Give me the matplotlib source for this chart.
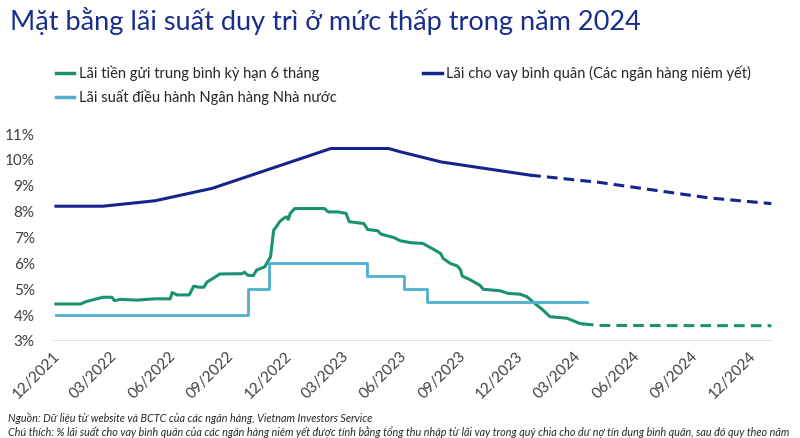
import matplotlib
matplotlib.use("Agg")
import matplotlib.pyplot as plt
import matplotlib.dates as mdates
import pandas as pd

plt.rcParams['font.family'] = ['Lato', 'Roboto', 'DejaVu Sans']

# Lãi tiền gửi trung bình kỳ hạn 6 tháng (thực tế)
dep_dates = ["2021-12-06", "2022-01-14", "2022-01-22", "2022-02-18", "2022-03-04", "2022-03-08",
             "2022-03-18", "2022-04-13", "2022-05-11", "2022-06-04", "2022-06-07", "2022-06-15",
             "2022-07-04", "2022-07-11", "2022-07-19", "2022-07-27", "2022-08-01", "2022-08-13",
             "2022-08-21", "2022-09-25", "2022-09-29", "2022-10-04", "2022-10-13", "2022-10-18",
             "2022-10-31", "2022-11-06", "2022-11-09", "2022-11-14", "2022-11-18", "2022-11-23",
             "2022-11-29", "2022-12-04", "2022-12-07", "2022-12-10", "2022-12-17", "2023-02-02",
             "2023-02-08", "2023-02-23", "2023-03-08", "2023-03-13", "2023-04-05", "2023-04-11",
             "2023-04-27", "2023-05-02", "2023-05-22", "2023-06-02", "2023-06-18", "2023-07-07",
             "2023-07-24", "2023-08-04", "2023-08-08", "2023-08-19", "2023-08-30", "2023-09-04",
             "2023-09-07", "2023-09-20", "2023-10-05", "2023-10-10", "2023-11-06", "2023-11-18",
             "2023-12-07", "2023-12-18", "2023-12-27", "2024-01-12", "2024-01-23", "2024-02-19",
             "2024-03-10", "2024-03-15"]
dep_values = [4.43, 4.43, 4.52, 4.69, 4.69, 4.56,
              4.61, 4.58, 4.63, 4.63, 4.87, 4.78,
              4.78, 5.12, 5.08, 5.08, 5.28, 5.46,
              5.59, 5.60, 5.66, 5.54, 5.53, 5.74,
              5.87, 6.13, 6.25, 7.29, 7.41, 7.60,
              7.73, 7.80, 7.70, 7.93, 8.12, 8.12,
              7.99, 7.99, 7.93, 7.61, 7.54, 7.31,
              7.26, 7.13, 7.00, 6.87, 6.80, 6.77,
              6.54, 6.38, 6.19, 6.00, 5.90, 5.77,
              5.51, 5.36, 5.15, 5.00, 4.94, 4.84,
              4.81, 4.71, 4.52, 4.20, 3.94, 3.88,
              3.68, 3.66]
# dự báo
dep_fc_dates = ["2024-03-15", "2024-04-10", "2025-01-06"]
dep_fc_values = [3.66, 3.60, 3.59]

# Lãi cho vay bình quân
loan_dates = ["2021-12-06", "2022-02-18", "2022-05-11", "2022-08-09", "2023-02-12",
              "2023-05-14", "2023-06-02", "2023-08-05", "2023-12-23"]
loan_values = [8.21, 8.21, 8.42, 8.90, 10.44, 10.44, 10.31, 9.92, 9.41]
loan_fc_dates = ["2023-12-23", "2024-04-10", "2024-09-30", "2025-01-06"]
loan_fc_values = [9.41, 9.13, 8.53, 8.31]

# Lãi suất điều hành
policy_dates = ["2021-12-06", "2022-10-05", "2022-11-07", "2023-04-10", "2023-06-07",
                "2023-07-13", "2024-03-22"]
policy_values = [4.0, 5.0, 6.0, 5.5, 5.0, 4.5, 4.5]

tick_dates = pd.date_range("2021-12-01", "2024-12-01", freq="3MS")
tick_labels = [d.strftime("%m/%Y") for d in tick_dates]
y_ticks = [3, 4, 5, 6, 7, 8, 9, 10, 11]

green = "#1A9272"
navy = "#15248C"
light = "#4DB0CF"

fig = plt.figure(figsize=(8, 4.38), dpi=100)
ax = fig.add_axes([0.066, 0.2215, 0.899, 0.4725])

ax.plot(pd.to_datetime(dep_dates), dep_values, color=green, lw=2.2, solid_joinstyle='round')
ax.plot(pd.to_datetime(dep_fc_dates), dep_fc_values, color=green, lw=2.2, ls=(0, (3.5, 2)))
ax.plot(pd.to_datetime(loan_dates), loan_values, color=navy, lw=2.2)
ax.plot(pd.to_datetime(loan_fc_dates), loan_fc_values, color=navy, lw=2.2, ls=(0, (3.5, 2)))
ax.step(pd.to_datetime(policy_dates), policy_values, where='post', color=light, lw=2.0)

ax.set_xlim(pd.Timestamp("2021-12-04"), pd.Timestamp("2025-01-07"))
ax.set_ylim(3, 11)
ax.set_yticks(y_ticks)
ax.set_yticklabels([f"{v}%" for v in y_ticks])
ax.set_xticks(tick_dates)
ax.set_xticklabels(tick_labels, rotation=45, ha='right', rotation_mode='anchor')
ax.tick_params(axis='both', length=0, labelsize=11, colors="#404040")
ax.tick_params(axis='y', pad=13)
ax.tick_params(axis='x', pad=6)
for s in ax.spines.values():
    s.set_visible(False)
ax.axhline(3, color="#D9D9D9", lw=1.2, zorder=0)

fig.text(0.013, 0.952, "Mặt bằng lãi suất duy trì ở mức thấp trong năm 2024",
         fontsize=19.5, color="#1B2E8C", va='center', ha='left')

h1, = ax.plot([], [], color=green, lw=2.5)
h2, = ax.plot([], [], color=light, lw=2.5)
h3, = ax.plot([], [], color=navy, lw=2.5)
fig.legend([h1, h2, h3],
           ["Lãi tiền gửi trung bình kỳ hạn 6 tháng", "Lãi suất điều hành Ngân hàng Nhà nước",
            "Lãi cho vay bình quân (Các ngân hàng niêm yết)"],
           ncol=2, loc='upper left', bbox_to_anchor=(0.053, 0.88), frameon=False,
           fontsize=10.5, handlelength=1.3, handletextpad=0.3, columnspacing=5.9,
           labelspacing=0.55, labelcolor="#262626")

fig.text(0.01, 0.045, "Nguồn: Dữ liệu từ website và BCTC của các ngân hàng, Vietnam Investors Service",
         fontsize=7.75, style='italic', color="#262626", va='center')
fig.text(0.01, 0.013, "Chú thích: % lãi suất cho vay bình quân của các ngân hàng niêm yết được tính bằng tổng thu nhập từ lãi vay trong quý chia cho dư nợ tín dụng bình quân, sau đó quy theo năm",
         fontsize=7.75, style='italic', color="#262626", va='center')

fig.savefig("out.png", dpi=100)
